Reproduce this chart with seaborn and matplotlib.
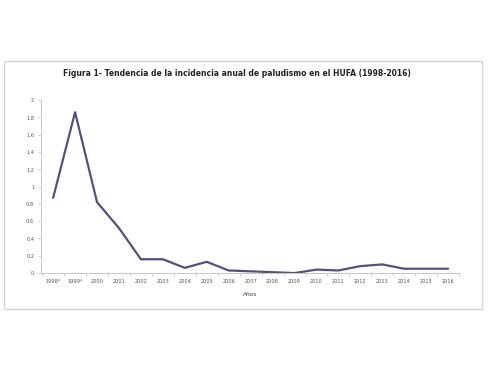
import matplotlib.pyplot as plt
import matplotlib.patches as patches
import numpy as np
import seaborn as sns

sns.set_style("white")

years = ["1998*", "1999*", "2000", "2001", "2002", "2003", "2004", "2005", "2006",
         "2007", "2008", "2009", "2010", "2011", "2012", "2013", "2014", "2015", "2016"]
incidence = [0.87, 1.86, 0.82, 0.52, 0.16, 0.16, 0.06, 0.13, 0.03,
             0.02, 0.01, 0.00, 0.04, 0.03, 0.08, 0.10, 0.05, 0.05, 0.05]
yticks = [0, 0.2, 0.4, 0.6, 0.8, 1, 1.2, 1.4, 1.6, 1.8, 2]

fig = plt.figure(figsize=(4.89, 3.68), dpi=100)
ax = fig.add_axes([0.084, 0.258, 0.857, 0.47])

pos = np.arange(len(years))
sns.lineplot(x=pos, y=incidence, color="#50537f", linewidth=1.6, ax=ax)

ax.set_xlim(-0.55, len(years) - 0.45)
ax.set_ylim(0, 2)
ax.set_xticks(pos)
ax.set_xticklabels(years, fontsize=3.6, color="#555555")
ax.set_xticks(np.arange(-0.5, len(years), 1), minor=True)
ax.set_yticks(yticks)
ax.set_yticklabels([("%g" % t).replace(".", ",") for t in yticks], fontsize=3.6, color="#555555")
ax.tick_params(axis="x", which="major", length=0, pad=4)
ax.tick_params(axis="x", which="minor", length=2, color="#c8c8c8", width=0.6)
ax.tick_params(axis="y", length=2, color="#c8c8c8", width=0.6, pad=3)
ax.xaxis.set_ticks_position("bottom")
ax.yaxis.set_ticks_position("left")

for s in ["top", "right"]:
    ax.spines[s].set_visible(False)
for s in ["left", "bottom"]:
    ax.spines[s].set_color("#c8c8c8")
    ax.spines[s].set_linewidth(0.7)

ax.set_xlabel("Años", fontsize=4.2, color="#444444", labelpad=6)
fig.text(0.485, 0.8, "Figura 1- Tendencia de la incidencia anual de paludismo en el HUFA (1998-2016)",
         ha="center", va="center", fontsize=5.5, fontweight="bold", color="#222222")

fig.patches.append(patches.Rectangle((0.008, 0.16), 0.978, 0.674, transform=fig.transFigure,
                                     fill=False, edgecolor="#d6d6d6", linewidth=1.0))

fig.savefig("out.png", dpi=100)
